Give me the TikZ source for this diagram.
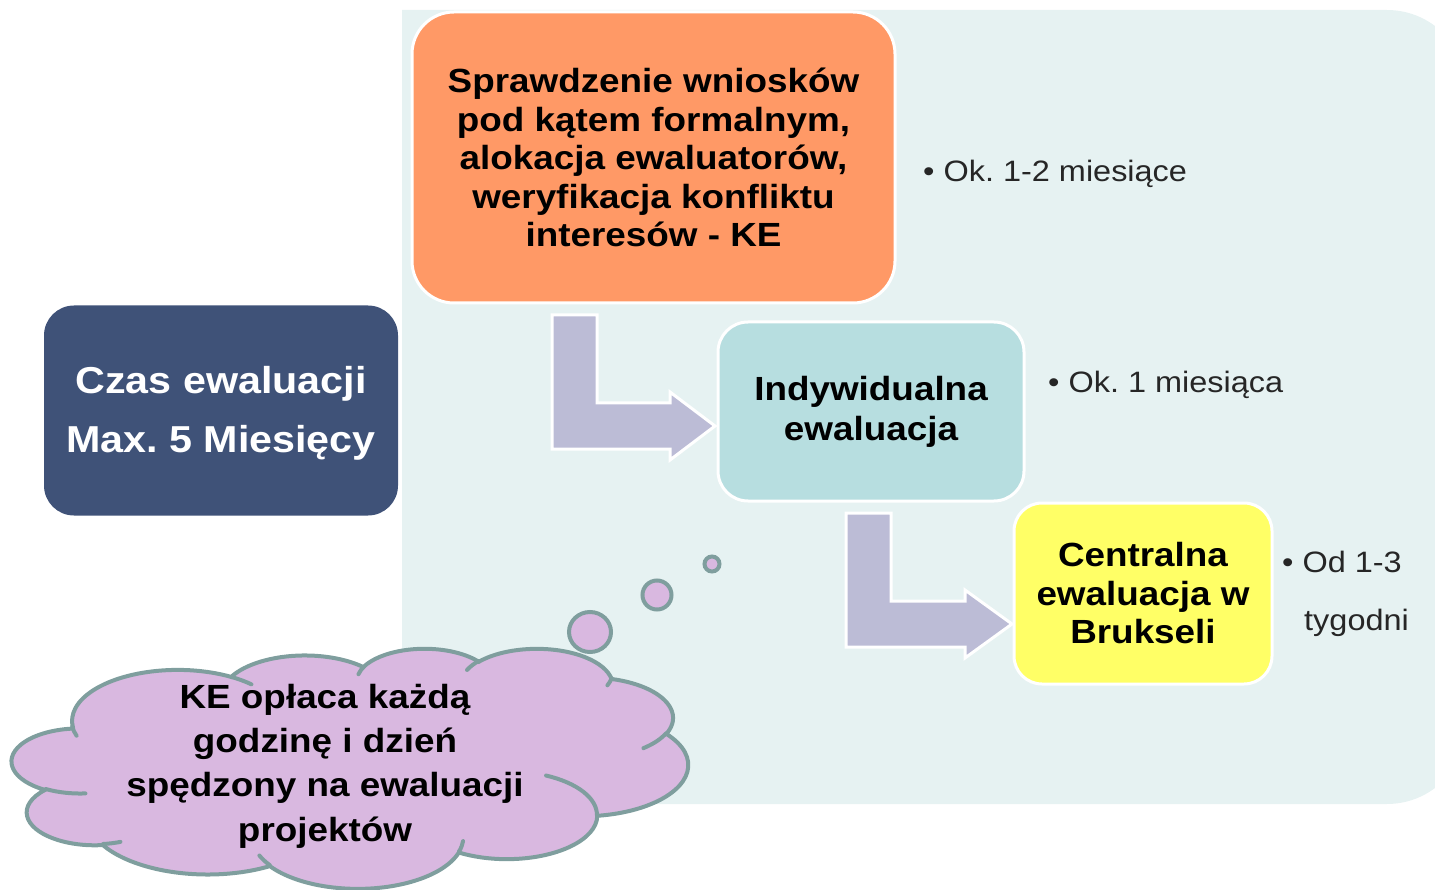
\documentclass[tikz,border=0pt]{standalone}
\usepackage{fontspec}
\setmainfont{Liberation Sans}[FakeStretch=1.1]
\frenchspacing
\definecolor{panelbg}{HTML}{E6F2F2}
\definecolor{orangebox}{HTML}{FF9966}
\definecolor{navybox}{HTML}{3F5278}
\definecolor{bluebox}{HTML}{B7DEE0}
\definecolor{yellowbox}{HTML}{FFFF66}
\definecolor{arrowfill}{HTML}{BCBCD6}
\definecolor{cloudfill}{HTML}{D9B8E0}
\definecolor{cloudline}{HTML}{7F9E9E}
\definecolor{bullettext}{HTML}{262626}
\newcommand\cldcalc[5]{%
  \pgfmathsetmacro\cldtmpa{atan2((#2)*sin(#4),(#3)*cos(#4))}%
  \pgfmathsetmacro\cldtmpb{atan2((#2)*sin((#4)+(#5)),(#3)*cos((#4)+(#5)))}%
  \pgfmathsetmacro\cldtmpb{\cldtmpb<\cldtmpa ? \cldtmpb+360 : \cldtmpb}%
  \expandafter\xdef\csname cld#1s\endcsname{\cldtmpa}%
  \expandafter\xdef\csname cld#1e\endcsname{\cldtmpb}%
}
\tikzset{
  boxbase/.style={inner sep=0pt, align=center, line width=3pt},
  boldtext/.style={font={\fontsize{33.5}{#1}\selectfont\bfseries}},
  bulletnode/.style={inner sep=0pt, anchor=base west, text=bullettext,
    font={\fontsize{29.5}{34}\selectfont}},
  bentarrow/.style={fill=arrowfill, draw=white, line width=3pt, line join=miter},
  cloudstroke/.style={draw=cloudline, line width=4pt},
}
\begin{document}
\begin{tikzpicture}[x=1pt, y=-1pt]
\useasboundingbox (0,0) rectangle (1435,890);
\clip (0,0) rectangle (1435,890);
% cloud arc angles (visual -> parametric)
\cldcalc{a}{675.3}{919.0}{-190.4875}{123.7805}
\cldcalc{b}{533.3}{726.7}{-144.1024}{89.9452}
\cldcalc{c}{436.5}{594.5}{-145.8079}{99.7230}
\cldcalc{d}{485.7}{659.5}{-130.9861}{117.2417}
\cldcalc{e}{533.3}{727.3}{-78.7089}{109.0269}
\cldcalc{f}{677.5}{922.0}{-46.2673}{130.2690}
\cldcalc{g}{578.5}{786.7}{0.6250}{114.0333}
\cldcalc{h}{675.2}{921.5}{22.4516}{115.1726}
\cldcalc{i}{772.0}{1054.3}{66.2426}{75.7110}
\cldcalc{j}{436.0}{591.8}{-274.9421}{146.7356}
\cldcalc{k}{434.5}{594.5}{-246.8285}{152.5189}
\cldcalc{A}{434.5}{594.5}{86.7420}{26.4295}
\cldcalc{B}{436.0}{591.8}{73.6105}{11.4475}
\cldcalc{C}{675.2}{921.5}{137.6242}{14.0811}
\cldcalc{D}{675.2}{921.5}{6.4533}{15.9984}
\cldcalc{E}{578.5}{786.7}{-70.2924}{70.9174}
\cldcalc{F}{533.3}{727.3}{30.3180}{27.7515}
\cldcalc{G}{485.7}{659.5}{13.7443}{14.8589}
\cldcalc{H}{485.7}{659.5}{-149.1815}{18.1954}
\cldcalc{I}{436.5}{594.5}{-163.4943}{17.6864}
\cldcalc{J}{675.3}{919.0}{-66.7070}{12.3194}
\cldcalc{K}{675.3}{919.0}{155.6472}{13.9345}
% background panel
\fill[panelbg] (402,10) -- (1387,10) arc[start angle=-90, end angle=0, radius=80]
  -- (1467,724) arc[start angle=0, end angle=90, radius=80] -- (402,804) -- cycle;
% boxes
\node[boxbase, boldtext=38.6, draw=white, fill=orangebox, rounded corners=42pt,
  minimum width=483pt, minimum height=291pt] (check) at (653.5,157.5)
  {Sprawdzenie wniosków\\pod kątem formalnym,\\alokacja ewaluatorów,\\weryfikacja konfliktu\\interesów - KE};
\node[boxbase, boldtext=40, draw=white, fill=bluebox, rounded corners=30pt,
  minimum width=306pt, minimum height=179pt] (indiv) at (871,411.5)
  {Indywidualna\\ewaluacja};
\node[boxbase, boldtext=38.5, draw=white, fill=yellowbox, rounded corners=28pt,
  minimum width=258pt, minimum height=181pt] (central) at (1143,593.5)
  {Centralna\\ewaluacja w\\Brukseli};
\node[boxbase, fill=navybox, rounded corners=30pt,
  minimum width=354pt, minimum height=210pt] (time) at (221,410.5) {};
\node[inner sep=0pt, align=center, text=white,
  font={\fontsize{37.5}{59}\selectfont\bfseries}] (timetext) at (221,413.5)
  {Czas ewaluacji\\Max. 5 Miesięcy};
% bent arrows
\draw[bentarrow] (552,315) -- (597,315) -- (597,403) -- (670,403) -- (670,392)
  -- (715,426) -- (670,460) -- (670,449) -- (552,449) -- cycle;
\draw[bentarrow] (846,513) -- (891,513) -- (891,601) -- (965,601) -- (965,590)
  -- (1012,624) -- (965,658) -- (965,647) -- (846,647) -- cycle;
% bullet texts
\node[bulletnode] (b1) at (923,182) {• Ok. 1-2 miesiące};
\node[bulletnode] (b2) at (1048,393) {• Ok. 1 miesiąca};
\node[bulletnode] (b3) at (1282,572) {• Od 1-3};
\node[bulletnode] (b4) at (1304,630) {tygodni};
% cloud
\begin{scope}[shift={(12,648)}, x=0.15648pt, y=-0.05556pt]
\draw[cloudstroke, fill=cloudfill] (390,1437)
  arc[x radius=675.3, y radius=919.0, start angle=\cldas, end angle=\cldae]
  arc[x radius=533.3, y radius=726.7, start angle=\cldbs, end angle=\cldbe]
  arc[x radius=436.5, y radius=594.5, start angle=\cldcs, end angle=\cldce]
  arc[x radius=485.7, y radius=659.5, start angle=\cldds, end angle=\cldde]
  arc[x radius=533.3, y radius=727.3, start angle=\cldes, end angle=\cldee]
  arc[x radius=677.5, y radius=922.0, start angle=\cldfs, end angle=\cldfe]
  arc[x radius=578.5, y radius=786.7, start angle=\cldgs, end angle=\cldge]
  arc[x radius=675.2, y radius=921.5, start angle=\cldhs, end angle=\cldhe]
  arc[x radius=772.0, y radius=1054.3, start angle=\cldis, end angle=\cldie]
  arc[x radius=436.0, y radius=591.8, start angle=\cldjs, end angle=\cldje]
  arc[x radius=434.5, y radius=594.5, start angle=\cldks, end angle=\cldke]
  -- cycle;
\draw[cloudstroke, line cap=round]
  (469.3,2617.7) arc[x radius=434.5, y radius=594.5, start angle=\cldAs, end angle=\cldAe]
  (692.8,3489.9) arc[x radius=436.0, y radius=591.8, start angle=\cldBs, end angle=\cldBe]
  (1647.8,3909.0) arc[x radius=675.2, y radius=921.5, start angle=\cldCs, end angle=\cldCe]
  (2882.7,3475.1) arc[x radius=675.2, y radius=921.5, start angle=\cldDs, end angle=\cldDe]
  (3412.9,2295.4) arc[x radius=578.5, y radius=786.7, start angle=\cldEs, end angle=\cldEe]
  (4179.8,1535.4) arc[x radius=533.3, y radius=727.3, start angle=\cldFs, end angle=\cldFe]
  (3832.4,542.6) arc[x radius=485.7, y radius=659.5, start angle=\cldGs, end angle=\cldGe]
  (2907.8,395.2) arc[x radius=485.7, y radius=659.5, start angle=\cldHs, end angle=\cldHe]
  (2214.1,472.0) arc[x radius=436.5, y radius=594.5, start angle=\cldIs, end angle=\cldIe]
  (1400.0,519.2) arc[x radius=675.3, y radius=919.0, start angle=\cldJs, end angle=\cldJe]
  (412.7,1578.9) arc[x radius=675.3, y radius=919.0, start angle=\cldKs, end angle=\cldKe];
\end{scope}
% thought bubbles
\draw[cloudstroke, fill=cloudfill] (590,632) ellipse[x radius=21, y radius=20];
\draw[cloudstroke, fill=cloudfill] (657,595) ellipse[x radius=14.5, y radius=14.5];
\draw[cloudstroke, fill=cloudfill] (712,564) ellipse[x radius=7.5, y radius=7.5];
\node[inner sep=0pt, align=center, boldtext=44.3] (cloudtext) at (325,766)
  {KE opłaca każdą\\godzinę i dzień\\spędzony na ewaluacji\\projektów};
\end{tikzpicture}
\end{document}
